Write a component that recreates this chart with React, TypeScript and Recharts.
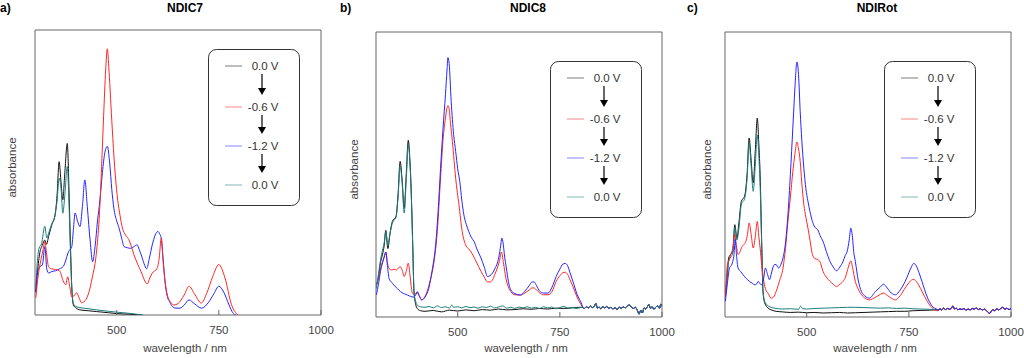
import React from 'react';
import { LineChart, Line, XAxis, YAxis, ReferenceArea, Legend } from 'recharts';

const FONT = '"Liberation Sans", Arial, Helvetica, sans-serif';
const H = 358;

// shared axis / legend values
const xTicks = [500, 750, 1000];
const voltLabels = ['0.0 V', '-0.6 V', '-1.2 V', '0.0 V'];
const lineColors = ['#111111', '#ff2626', '#2626ff', '#1d7d7d'];

// ---- a) NDIC7 ----
const aBlackWl = [302, 306, 312, 318, 324, 328, 334, 341, 349, 354, 359, 364, 368, 373, 379, 383, 386, 390, 394, 400, 410, 430, 451, 480, 500, 530, 562];
const aBlack = [8, 15, 22, 24.5, 26.3, 24.8, 28, 31.6, 35, 42, 53.8, 46, 40.4, 50, 60.2, 45, 28.7, 9.9, 3.5, 2.5, 1.8, 1.5, 1.2, 0.8, 0.5, 0.3, 0];
const aTealWl = [302, 306, 310, 316, 324, 329, 334, 341, 349, 354, 359, 364, 368, 373, 379, 383, 386, 390, 394, 400, 410, 430, 451, 480, 500, 530, 565];
const aTeal = [10, 19, 23.5, 25, 31.1, 27, 29, 32, 35, 40, 48, 44, 35.7, 42, 52.1, 40, 26, 9.5, 4, 3, 2.6, 2.2, 1.8, 1.3, 1, 0.6, 0];
const aRedWl = [302, 308, 314, 320, 324, 328, 333, 340, 350, 360, 369, 375, 380, 385, 390, 396, 402, 408, 414, 425, 440, 451, 458, 463, 468, 473, 477, 481, 485, 489, 495, 501, 508, 514, 522, 530, 542, 559, 575, 581, 587, 599, 604, 609, 614, 619, 624, 632, 640, 650, 665, 677, 690, 707, 720, 735, 750, 765, 781, 797];
const aRed = [6, 14, 19, 23, 25.8, 22, 17, 16.2, 16, 15.5, 12, 10.6, 13.4, 10, 6.4, 6.8, 7.8, 6, 4.3, 5.5, 13, 22.8, 36, 52, 70, 86, 93.4, 86, 76, 65.6, 52, 42.2, 35, 30.5, 28, 26.4, 21.2, 15.4, 10.9, 13, 14.7, 16.4, 20, 26.9, 18, 11, 7, 4.5, 3.5, 4, 7, 10.1, 7.5, 4.2, 7.5, 13.5, 17.7, 13, 3.6, 0];
const aBlueWl = [302, 306, 312, 318, 324, 329, 334, 340, 350, 360, 369, 373, 378, 382, 386, 390, 394, 398, 404, 410, 416, 422, 428, 435, 441, 447, 453, 459, 465, 471, 477, 483, 488, 493, 500, 506, 512, 518, 526, 534, 542, 550, 555, 560, 567, 573, 580, 587, 594, 601, 605, 609, 614, 618, 623, 630, 636, 645, 655, 665, 677, 690, 708, 725, 738, 750, 762, 775, 784, 792];
const aBlue = [8, 15, 17, 17.5, 24, 16, 14.7, 15.2, 15.5, 16.2, 17, 18.2, 20.5, 22.2, 23, 24, 30, 35.8, 33, 31, 38, 47.4, 38, 26, 18.7, 24, 33, 40.4, 50, 57, 59.2, 53, 44, 37.5, 33, 30.4, 27, 24, 23.6, 23.4, 24, 24.6, 23, 21.1, 18, 16.2, 20, 24.6, 28, 29.3, 28.5, 26.9, 19, 12, 7, 4.5, 3, 2.4, 2.4, 3.5, 5.3, 4, 2.4, 4.5, 7.5, 10.1, 8, 3.5, 0.8, 0];

// ---- b) NDIC8 ----
const bBlackWl = [301, 306, 311, 316, 320, 324, 329, 334, 340, 349, 354, 359, 364, 369, 374, 379, 383, 386, 390, 393, 397, 401, 409, 420, 440, 460, 480, 500, 520, 540, 560, 580, 600, 620, 640, 660, 680, 700, 720, 740, 760, 780, 800];
const bBlack = [11.3, 14, 19.1, 22, 25, 30.4, 24, 29, 33.5, 35.3, 43, 54.6, 48, 38.2, 50, 62, 55, 45.2, 25, 8.9, 4.5, 3, 2.2, 2, 2.3, 1.8, 2.4, 2.1, 2.5, 2.2, 2.6, 2.4, 2.8, 2.5, 2.6, 2.9, 2.7, 3, 2.8, 3.1, 3, 3.2, 3.4];
const bTealWl = [301, 306, 311, 316, 320, 324, 329, 334, 340, 349, 354, 359, 364, 369, 374, 379, 383, 386, 390, 393, 397, 401, 409, 420, 430, 440, 450, 460, 470, 480, 485, 490, 500, 510, 520, 530, 540, 550, 560, 570, 580, 590, 600, 610, 620, 630, 640, 650, 660, 670, 680, 690, 700, 710, 720, 730, 740, 750, 760, 770, 780, 790, 800];
const bTeal = [10, 15, 20, 23.5, 26, 30, 25, 29, 33, 35, 42, 53, 47, 36.5, 48, 60.5, 54, 44, 24, 9, 5.5, 4.2, 3.6, 3.4, 3.7, 3.2, 3.9, 3.3, 3.6, 3.1, 4.2, 3.4, 3.6, 3.2, 3.7, 3.3, 3.5, 3.1, 3.6, 3.3, 3.8, 3.2, 3.5, 3.9, 3.1, 3.4, 3, 3.5, 3.2, 3.6, 3.1, 3.4, 3, 3.6, 3.2, 3.5, 2.9, 3.3, 3.7, 3.1, 3.4, 3, 3.3];
const bRedWl = [301, 306, 311, 316, 320, 324, 328, 332, 338, 344, 350, 355, 359, 364, 369, 374, 379, 383, 386, 389, 394, 401, 406, 412, 418, 425, 433, 442, 450, 458, 464, 470, 474, 476, 479, 483, 487, 491, 495, 503, 511, 519, 526, 532, 545, 557, 565, 573, 580, 585, 591, 597, 602, 607, 612, 618, 624, 630, 640, 653, 664, 675, 682, 687, 693, 701, 710, 721, 731, 741, 750, 757, 763, 769, 775, 782, 792, 802];
const bRed = [11.3, 13.5, 17, 19.5, 21, 22.8, 19, 17, 16.5, 16.8, 16.5, 17.2, 17.7, 16.5, 14.2, 16, 18.9, 15, 11, 8.4, 8, 8.5, 7.2, 6, 6.8, 8.9, 13, 19.4, 30, 48.7, 62, 69.8, 73.5, 74.2, 73, 67, 61.6, 55, 48.7, 39.4, 30, 25.4, 24, 23, 19.5, 16, 14, 12.3, 12.3, 13, 15, 17.2, 19.5, 22.8, 19, 13.6, 10.5, 8.9, 7.8, 7.7, 8.4, 9.5, 10.2, 10.2, 9.5, 8.4, 7.8, 7.8, 9, 12.5, 14.5, 15.5, 15.7, 15, 13, 10.7, 7, 4.3];
const bBlueWl = [301, 306, 311, 316, 320, 324, 328, 332, 338, 344, 352, 360, 368, 377, 385, 391, 397, 401, 406, 412, 420, 429, 437, 446, 452, 458, 464, 470, 474, 476, 479, 484, 490, 495, 500, 505, 510, 515, 521, 527, 533, 540, 548, 557, 565, 573, 579, 585, 591, 597, 602, 606, 608, 611, 615, 619, 624, 630, 640, 653, 664, 675, 682, 687, 693, 701, 710, 721, 731, 741, 750, 757, 763, 769, 775, 782, 792, 804];
const bBlue = [7.8, 11.5, 16, 19, 21, 22.8, 18, 13.5, 12.2, 11.2, 10, 8.9, 8.2, 7.7, 7.2, 7, 7.7, 8.9, 7.5, 6, 7, 10, 16, 25.4, 37, 52.2, 66, 78, 87, 91, 89, 75.7, 64, 58.1, 52, 47.6, 41, 35.9, 32.5, 30, 28, 26.5, 23.5, 20.7, 17.5, 14.2, 14.5, 15.4, 17, 18.9, 22, 26, 27.7, 26, 21, 17.2, 12.5, 9.5, 8.2, 7.7, 9, 11, 12.3, 12.3, 11, 9, 8.4, 8.4, 10.5, 14.2, 16.8, 18.5, 18.8, 18, 15.5, 12.5, 8, 4.3];
const bNoiseWl = [806, 810, 815, 820, 825, 830, 835, 838, 842, 846, 850, 855, 860, 865, 870, 875, 880, 885, 890, 895, 900, 905, 910, 915, 920, 925, 930, 935, 940, 944, 948, 952, 956, 960, 965, 968, 972, 976, 980, 985, 990, 994, 997, 1000];
const bNoise = [3.4, 3.0, 3.6, 3.2, 3.8, 3.3, 3.9, 4.8, 3.1, 3.5, 2.9, 3.6, 3.2, 3.7, 3.0, 3.4, 2.8, 3.3, 2.6, 3.5, 3.0, 3.6, 3.2, 3.9, 4.2, 3.5, 3.0, 3.4, 2.2, 1.0, 2.4, 1.4, 3.2, 2.8, 3.8, 4.4, 3.0, 3.6, 2.7, 3.5, 3.9, 3.1, 4.5, 3.8];

// ---- c) NDIRot ----
const cBlackWl = [301, 305, 309, 314, 319, 324, 329, 334, 340, 348, 354, 359, 364, 369, 374, 379, 383, 386, 390, 393, 397, 405, 415, 425, 440, 460, 480, 500, 520, 540, 560, 580, 600, 620, 640, 660, 680, 700, 720, 740, 760, 780, 800, 818];
const cBlack = [7.8, 14, 20.7, 22, 23, 32.4, 27.7, 33, 40.6, 42.4, 50, 62.8, 55, 47, 58, 69.8, 60, 50, 25, 9, 5, 3.2, 2.4, 2, 1.8, 1.6, 1.7, 1.5, 1.6, 1.4, 1.5, 1.6, 1.4, 1.5, 1.6, 1.7, 1.8, 1.9, 2, 2, 2.2, 2.3, 2.4, 2.5];
const cTealWl = [301, 305, 309, 314, 319, 324, 329, 334, 340, 348, 354, 359, 364, 369, 374, 379, 383, 386, 390, 393, 397, 405, 415, 425, 440, 460, 480, 485, 490, 500, 520, 540, 560, 580, 600, 620, 640, 660, 680, 700, 720, 740, 760, 780, 800, 818];
const cTeal = [7, 13, 19.5, 21, 22.5, 31.5, 27, 31, 39.5, 41.5, 48.5, 61, 53, 44.1, 53, 63.9, 56, 46, 24, 9.5, 5.5, 4, 3.3, 3, 2.8, 2.9, 2.7, 3.8, 2.9, 2.8, 3, 3.1, 3.2, 3.3, 3.4, 3.4, 3.3, 3.2, 3.1, 3.2, 3, 3.1, 2.9, 2.8, 2.7, 2.6];
const cRedWl = [301, 306, 310, 314, 319, 324, 328, 332, 337, 342, 347, 351, 355, 359, 364, 369, 374, 379, 383, 386, 390, 395, 400, 405, 413, 419, 425, 433, 442, 448, 454, 460, 466, 471, 476, 480, 484, 488, 493, 498, 503, 508, 514, 520, 526, 532, 540, 548, 557, 565, 573, 581, 589, 595, 599, 604, 608, 612, 619, 626, 634, 643, 653, 668, 680, 688, 697, 707, 717, 729, 741, 750, 757, 762, 768, 775, 782, 795, 807, 820];
const cRed = [7, 18.4, 20, 21.9, 24, 28.9, 25, 21.9, 23, 24.8, 25.5, 26.5, 29, 33, 29, 24.2, 28, 33.5, 28, 24.2, 18, 12.5, 9.5, 8.4, 6.6, 7, 8.9, 12.5, 17.2, 24, 33.5, 42, 51, 57, 61.4, 59, 54.6, 47, 39.4, 35, 31.2, 27, 21.9, 20.5, 20.2, 19.5, 16, 14, 12.5, 11.5, 10.7, 11.5, 12.5, 14, 16, 18.5, 19.7, 17.5, 12.5, 9.8, 7.8, 6.6, 6, 6.9, 7.9, 8.4, 7.6, 6.6, 6, 7.5, 10.2, 12, 13, 13.2, 12.5, 11, 9, 5.5, 3.2, 2.2];
const cBlueWl = [301, 306, 311, 315, 319, 322, 325, 328, 332, 338, 344, 352, 360, 367, 373, 377, 381, 385, 389, 394, 399, 404, 409, 413, 417, 421, 425, 431, 437, 442, 448, 454, 460, 466, 471, 476, 480, 484, 488, 493, 498, 503, 508, 514, 520, 527, 533, 540, 548, 557, 565, 573, 581, 589, 594, 599, 604, 608, 612, 615, 619, 626, 634, 643, 653, 668, 680, 688, 697, 707, 717, 729, 741, 750, 757, 762, 768, 775, 782, 795, 807, 820];
const cBlue = [5.5, 12, 17.2, 18, 19.5, 22, 27.2, 22, 17.2, 16, 14.9, 13.5, 12.5, 11.8, 11.3, 11.5, 12.5, 11.8, 11.3, 13, 17.2, 15, 13.1, 15, 17.2, 18.4, 18.4, 17.2, 18.5, 20.7, 26, 35.8, 50, 66.3, 80, 89.5, 85, 72.2, 62, 52.2, 45, 40.6, 37, 33.5, 31.5, 30.6, 28.5, 26.5, 23, 19.5, 17.5, 16.2, 17.5, 19.5, 21.5, 23, 27, 31.2, 28, 23, 19.5, 13, 8.9, 7.3, 6.6, 8.9, 10.5, 11.5, 10.2, 8.4, 7.8, 9.5, 12.5, 15.5, 17.8, 18.8, 18, 15.5, 12.5, 7, 3.8, 2.6];
const cNoiseWl = [822, 826, 830, 835, 840, 845, 850, 855, 858, 862, 866, 870, 875, 880, 885, 890, 895, 900, 905, 910, 915, 920, 925, 930, 935, 940, 945, 948, 952, 956, 960, 965, 970, 975, 980, 985, 990, 995, 1000];
const cNoise = [2.4, 2.9, 2.5, 3.1, 2.6, 3.0, 2.7, 3.3, 3.9, 2.8, 3.1, 2.5, 2.9, 2.6, 3.0, 2.4, 2.8, 2.5, 3.0, 2.7, 3.2, 2.6, 2.9, 2.4, 2.8, 2.2, 1.5, 1.3, 2.0, 2.6, 2.2, 2.9, 2.5, 3.0, 3.4, 2.7, 3.1, 2.6, 3.0];

type Pt = { x: number; y: number };
const zip = (wl: number[], ab: number[], tailWl: number[] = [], tail: number[] = []): Pt[] =>
  wl.concat(tailWl).map((x, i) => ({ x, y: ab.concat(tail)[i] }));

// series in legend order: black, red, blue, teal
const panels = [
  {
    letter: 'a)', title: 'NDIC7', left: 0, width: 340, letterX: 0, titleX: 185,
    plot: { l: 35, r: 321, t: 30, b: 315 }, yLabelDx: -23.5, legend: { x: 208, y: 49 },
    series: [zip(aBlackWl, aBlack), zip(aRedWl, aRed), zip(aBlueWl, aBlue), zip(aTealWl, aTeal)],
    order: [0, 3, 2, 1],
  },
  {
    letter: 'b)', title: 'NDIC8', left: 340, width: 340, letterX: 0, titleX: 188,
    plot: { l: 36, r: 322, t: 32, b: 317 }, yLabelDx: -22.5, legend: { x: 210, y: 61 },
    series: [
      zip(bBlackWl, bBlack, bNoiseWl, bNoise),
      zip(bRedWl, bRed, bNoiseWl, bNoise),
      zip(bBlueWl, bBlue, bNoiseWl, bNoise),
      zip(bTealWl, bTeal, bNoiseWl, bNoise),
    ],
    order: [0, 1, 2, 3],
  },
  {
    letter: 'c)', title: 'NDIRot', left: 680, width: 344, letterX: 7, titleX: 197,
    plot: { l: 45, r: 331, t: 32, b: 317 }, yLabelDx: -18.5, legend: { x: 204, y: 61 },
    series: [
      zip(cBlackWl, cBlack, cNoiseWl, cNoise),
      zip(cRedWl, cRed, cNoiseWl, cNoise),
      zip(cBlueWl, cBlue, cNoiseWl, cNoise),
      zip(cTealWl, cTeal, cNoiseWl, cNoise),
    ],
    order: [0, 3, 1, 2],
  },
];

const XTick = (props: any) => {
  const { x, y, payload } = props;
  return (
    <g>
      <line x1={x} x2={x} y1={y} y2={y - 5} stroke="#666" />
      <text x={x} y={y + 19} textAnchor="middle" fontSize={11.5} fill="#444" fontFamily={FONT}>
        {payload.value}
      </text>
    </g>
  );
};

const xLabel = (p: any) => {
  const vb = p.viewBox;
  return (
    <text x={vb.x + vb.width / 2 + 7} y={vb.y + vb.height - 6} textAnchor="middle" fontSize={11.5} fill="#444" fontFamily={FONT}>
      wavelength / nm
    </text>
  );
};

const yLabel = (dx: number) => (p: any) => {
  const vb = p.viewBox;
  const cx = vb.x + vb.width + dx;
  const cy = vb.y + vb.height / 2 - 5;
  return (
    <text x={cx} y={cy} transform={`rotate(-90 ${cx} ${cy})`} textAnchor="middle" dominantBaseline="central" fontSize={11.5} fill="#444" fontFamily={FONT}>
      absorbance
    </text>
  );
};

// legend row positions inside the box
const rowY = [17, 58, 97, 136];

const LegendBox = () => (
  <svg width={92} height={157} style={{ display: 'block' }}>
    <rect x={0.5} y={0.5} width={91} height={156} rx={8} fill="#fff" stroke="#333" />
    {voltLabels.map((v, i) => (
      <g key={i}>
        <line x1={17} x2={34} y1={rowY[i]} y2={rowY[i]} stroke={lineColors[i]} strokeOpacity={0.55} />
        <text x={70.5} y={rowY[i]} textAnchor="end" dominantBaseline="central" fontSize={11.5} fill="#333" fontFamily={FONT}>
          {v}
        </text>
      </g>
    ))}
    {rowY.slice(0, 3).map((y, i) => {
      const tip = rowY[i + 1] - 12;
      return (
        <g key={`ar-${i}`}>
          <line x1={54} x2={54} y1={y + 8} y2={tip - 5} stroke="#000" strokeWidth={1.2} />
          <polygon points={`${50},${tip - 7} ${58},${tip - 7} 54,${tip}`} fill="#000" />
        </g>
      );
    })}
  </svg>
);

const Panel = ({ cfg }: { cfg: (typeof panels)[number] }) => {
  const { plot, width } = cfg;
  return (
    <div style={{ position: 'absolute', left: cfg.left, top: 0, width, height: H }}>
      <LineChart width={width} height={H} margin={{ top: plot.t, right: width - plot.r, bottom: 0, left: 0 }}>
        <XAxis
          type="number"
          dataKey="x"
          domain={[300, 1000]}
          ticks={xTicks}
          interval={0}
          allowDataOverflow
          height={H - plot.b}
          axisLine={false}
          tickLine={false}
          tickSize={0}
          tickMargin={0}
          tick={XTick}
          label={xLabel}
        />
        <YAxis
          type="number"
          domain={[0, 100]}
          allowDataOverflow
          width={plot.l}
          tick={false}
          tickLine={false}
          axisLine={false}
          label={yLabel(cfg.yLabelDx)}
        />
        <ReferenceArea x1={300} x2={1000} y1={0} y2={100} fill="none" stroke="#666" strokeWidth={1} />
        {cfg.order.map((i) => (
          <Line
            key={i}
            data={cfg.series[i]}
            dataKey="y"
            type="monotone"
            stroke={lineColors[i]}
            strokeWidth={1}
            dot={false}
            isAnimationActive={false}
          />
        ))}
        <Legend
          layout="vertical"
          align="center"
          verticalAlign="middle"
          wrapperStyle={{ left: cfg.legend.x, top: cfg.legend.y, width: 92, height: 157 }}
          content={() => <LegendBox />}
        />
      </LineChart>
      <div style={{ position: 'absolute', left: cfg.letterX, top: 1, fontSize: 12, lineHeight: '14px', fontWeight: 'bold', fontFamily: FONT }}>
        {cfg.letter}
      </div>
      <div style={{ position: 'absolute', left: cfg.titleX - 60, width: 120, top: 1, textAlign: 'center', fontSize: 12, lineHeight: '14px', fontWeight: 'bold', fontFamily: FONT }}>
        {cfg.title}
      </div>
    </div>
  );
};

export default function App() {
  return (
    <div style={{ position: 'absolute', left: 0, top: 0, width: 1024, height: H, background: '#fff', fontFamily: FONT }}>
      {panels.map((p) => (
        <Panel key={p.title} cfg={p} />
      ))}
    </div>
  );
}
